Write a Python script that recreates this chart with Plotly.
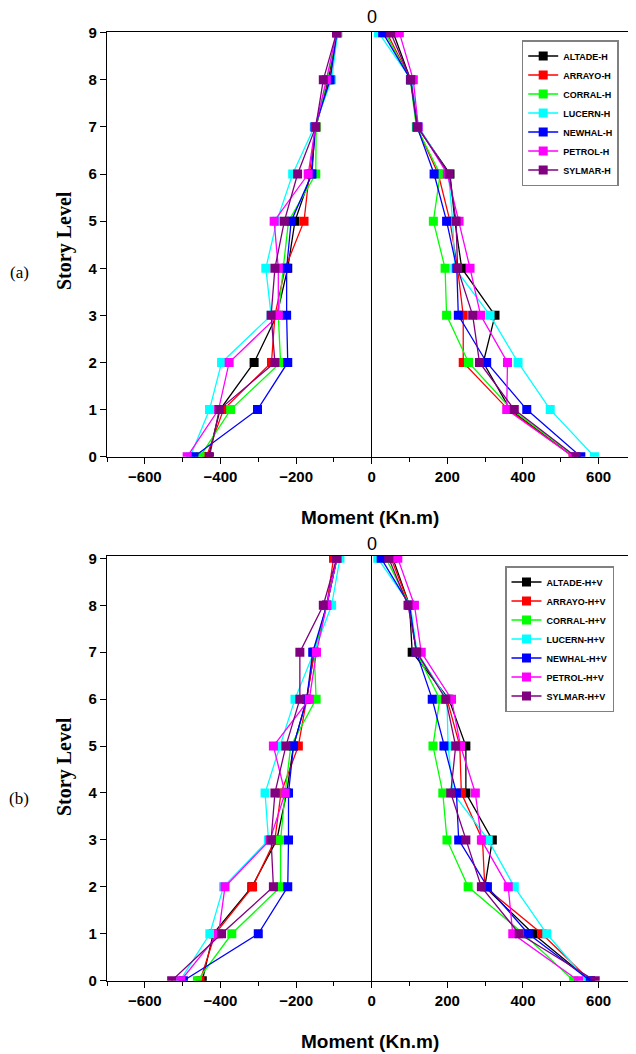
import plotly.graph_objects as go

# The page body has an 8px margin; the figure is sized and positioned to compensate.
OFF = 8
W, H = 636 - OFF, 1054 - OFF

levels = [0, 1, 2, 3, 4, 5, 6, 7, 8, 9]
x_tickvals = [-600, -400, -200, 0, 200, 400, 600]
x_ticktext = ["−600", "−400", "−200", "0", "200", "400", "600"]
y_ticktext = ["0", "1", "2", "3", "4", "5", "6", "7", "8", "9"]

names_a = ["ALTADE-H", "ARRAYO-H", "CORRAL-H", "LUCERN-H", "NEWHAL-H", "PETROL-H", "SYLMAR-H"]
names_b = ["ALTADE-H+V", "ARRAYO-H+V", "CORRAL-H+V", "LUCERN-H+V", "NEWHAL-H+V", "PETROL-H+V", "SYLMAR-H+V"]
colors = ["#000000", "#FF0000", "#00FF00", "#00FFFF", "#0000FF", "#FF00FF", "#800080"]

# Panel (a): horizontal only, negative and positive moments per story level (0..9)
ALTADE_H_neg = [-432, -401, -311, -251, -222, -203, -160, -148, -115, -92]
ARRAYO_H_neg = [-437, -392, -265, -256, -229, -179, -165, -148, -112, -90]
CORRAL_H_neg = [-454, -373, -241, -247, -234, -220, -148, -147, -118, -92]
LUCERN_H_neg = [-480, -429, -397, -266, -280, -251, -209, -152, -106, -90]
NEWHAL_H_neg = [-470, -302, -222, -225, -225, -213, -158, -150, -110, -92]
PETROL_H_neg = [-488, -405, -377, -247, -247, -258, -168, -149, -120, -93]
SYLMAR_H_neg = [-429, -403, -256, -266, -256, -231, -196, -148, -128, -93]

ALTADE_H_pos = [533, 366, 295, 326, 238, 220, 207, 121, 103, 57]
ARRAYO_H_pos = [533, 361, 242, 242, 227, 207, 176, 119, 103, 40]
CORRAL_H_pos = [538, 370, 256, 198, 194, 163, 181, 118, 102, 35]
LUCERN_H_pos = [589, 472, 387, 313, 220, 214, 203, 124, 105, 18]
NEWHAL_H_pos = [553, 410, 304, 229, 225, 198, 165, 120, 103, 29]
PETROL_H_pos = [533, 357, 359, 288, 260, 231, 200, 123, 110, 73]
SYLMAR_H_pos = [540, 377, 285, 267, 227, 223, 205, 121, 103, 50]

# Panel (b): horizontal + vertical
ALTADE_HV_neg = [-448, -419, -317, -251, -225, -207, -172, -152, -119, -92]
ARRAYO_HV_neg = [-454, -414, -315, -256, -240, -194, -172, -152, -119, -101]
CORRAL_HV_neg = [-461, -370, -241, -241, -229, -214, -147, -152, -119, -92]
LUCERN_HV_neg = [-507, -428, -392, -273, -282, -243, -203, -153, -106, -84]
NEWHAL_HV_neg = [-498, -300, -222, -220, -220, -207, -172, -156, -119, -92]
PETROL_HV_neg = [-505, -405, -388, -269, -229, -260, -165, -146, -119, -92]
SYLMAR_HV_neg = [-529, -397, -260, -266, -256, -227, -190, -190, -128, -93]

ALTADE_HV_pos = [578, 427, 299, 319, 249, 249, 204, 107, 100, 56]
ARRAYO_HV_pos = [578, 450, 299, 293, 237, 233, 199, 118, 100, 51]
CORRAL_HV_pos = [534, 401, 255, 199, 188, 162, 180, 118, 100, 38]
LUCERN_HV_pos = [569, 463, 377, 308, 215, 202, 199, 120, 102, 16]
NEWHAL_HV_pos = [578, 414, 306, 230, 224, 191, 160, 118, 100, 25]
PETROL_HV_pos = [547, 373, 361, 290, 274, 235, 211, 131, 113, 69]
SYLMAR_HV_pos = [591, 390, 290, 249, 209, 222, 196, 119, 96, 45]

neg_a = [ALTADE_H_neg, ARRAYO_H_neg, CORRAL_H_neg, LUCERN_H_neg, NEWHAL_H_neg, PETROL_H_neg, SYLMAR_H_neg]
pos_a = [ALTADE_H_pos, ARRAYO_H_pos, CORRAL_H_pos, LUCERN_H_pos, NEWHAL_H_pos, PETROL_H_pos, SYLMAR_H_pos]
neg_b = [ALTADE_HV_neg, ARRAYO_HV_neg, CORRAL_HV_neg, LUCERN_HV_neg, NEWHAL_HV_neg, PETROL_HV_neg, SYLMAR_HV_neg]
pos_b = [ALTADE_HV_pos, ARRAYO_HV_pos, CORRAL_HV_pos, LUCERN_HV_pos, NEWHAL_HV_pos, PETROL_HV_pos, SYLMAR_HV_pos]

fig = go.Figure()

def add_panel(names, negs, poss, xa, ya, legend):
    for name, c, n, p in zip(names, colors, negs, poss):
        fig.add_trace(go.Scatter(
            x=list(n) + [None] + list(p),
            y=levels + [None] + levels,
            mode="lines+markers",
            name=name,
            line=dict(color=c, width=1.3),
            marker=dict(symbol="square", size=9, color=c),
            xaxis=xa, yaxis=ya, legend=legend,
            connectgaps=False,
        ))

add_panel(names_a, neg_a, pos_a, "x", "y", "legend")
add_panel(names_b, neg_b, pos_b, "x2", "y2", "legend2")

# page-pixel helpers (reference picture coordinates -> paper fractions)
def fx(px):
    return (px - OFF) / W

def fy(py):
    return 1 - (py - OFF) / H

def dom_y(top, bottom):
    return [fy(bottom), fy(top)]

sans = "Liberation Sans, Arial, sans-serif"
serif = "Liberation Serif, Times New Roman, serif"

def bold(labels):
    return ["<b>%s</b>" % t for t in labels]

def xaxis_cfg(anchor):
    return dict(
        domain=[fx(107), fx(630)], range=[-700, 683], anchor=anchor,
        tickmode="array", tickvals=x_tickvals, ticktext=bold(x_ticktext),
        ticks="outside", ticklen=6, tickwidth=1.2, tickcolor="black",
        minor=dict(dtick=100, tick0=0, ticks="outside", ticklen=4, tickwidth=1.2, tickcolor="black"),
        showline=True, linecolor="black", linewidth=1.3, mirror=True,
        zeroline=True, zerolinecolor="black", zerolinewidth=1.3,
        showgrid=False,
        tickfont=dict(family=sans, size=15, color="black", weight="bold"),
        automargin=False,
    )

def yaxis_cfg(anchor, dom, top):
    return dict(
        domain=dom, range=[0, top], anchor=anchor,
        tickmode="array", tickvals=levels, ticktext=bold(y_ticktext),
        ticks="outside", ticklen=6, tickwidth=1.2, tickcolor="black",
        showline=True, linecolor="black", linewidth=1.3, mirror=True,
        zeroline=False, showgrid=False,
        tickfont=dict(family=sans, size=15, color="black", weight="bold"),
        automargin=False,
    )

legend_font = dict(family=sans, size=9, color="black", weight="bold")

fig.update_layout(
    width=W, height=H,
    margin=dict(l=0, r=0, t=0, b=0),
    paper_bgcolor="white", plot_bgcolor="white",
    xaxis=xaxis_cfg("y"),
    yaxis=yaxis_cfg("x", dom_y(31.5, 456.7), 9.025),
    xaxis2=xaxis_cfg("y2"),
    yaxis2=yaxis_cfg("x2", dom_y(556, 980.7), 9.05),
    legend=dict(x=fx(521.7), y=fy(40), xanchor="left", yanchor="top",
                bgcolor="white", bordercolor="#808080", borderwidth=1.5,
                font=legend_font, tracegroupgap=0, itemwidth=30),
    legend2=dict(x=fx(505), y=fy(566), xanchor="left", yanchor="top",
                 bgcolor="white", bordercolor="#808080", borderwidth=1.5,
                 font=legend_font, tracegroupgap=0, itemwidth=30),
    showlegend=True,
)

def ann(text, x, y, font, angle=0):
    fig.add_annotation(text=text, x=fx(x), y=fy(y), xref="paper", yref="paper",
                       showarrow=False, xanchor="center", yanchor="middle",
                       textangle=angle, font=font)

for (zero_y, title_y, story_y, lab_y, lab) in [(17, 517, 240, 272, "(a)"), (544, 1041, 766, 798, "(b)")]:
    ann("0", 372, zero_y, dict(family=sans, size=18, color="black"))
    ann("Moment (Kn.m)", 370, title_y, dict(family=sans, size=19, color="black", weight="bold"))
    ann("Story Level", 64, story_y, dict(family=serif, size=20, color="black", weight="bold"), angle=-90)
    ann(lab, 19, lab_y, dict(family=serif, size=17, color="black"))

fig.write_html("out.html")
